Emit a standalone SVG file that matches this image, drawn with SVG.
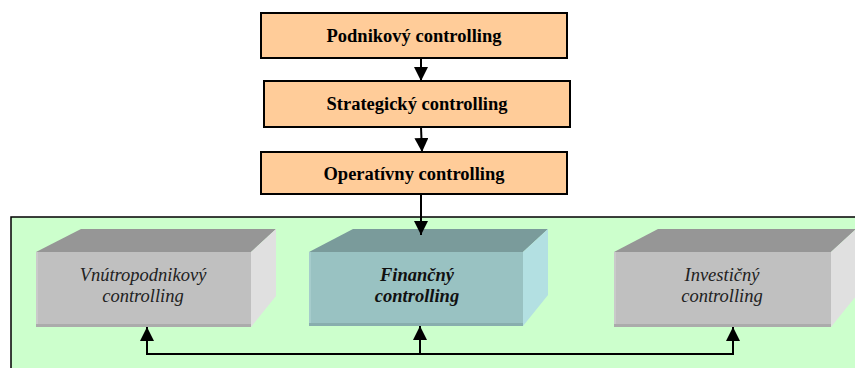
<svg xmlns="http://www.w3.org/2000/svg" width="855" height="368" viewBox="0 0 855 368">
  <style>
    .box { fill: #FFCC99; stroke: #000; stroke-width: 2; }
    .conn { fill: none; stroke: #000; stroke-width: 2; }
    .g-front { fill: #C0C0C0; }
    .g-top { fill: #969696; }
    .g-side { fill: #E0E0E0; }
    .g-lit { fill: #CACACA; }
    .g-dark { fill: #ABABAB; }
    .t-front { fill: #99C2C2; }
    .t-top { fill: #7A9B9B; }
    .t-side { fill: #B3E0E2; }
    .t-lit { fill: #A6CCCC; }
    .t-dark { fill: #88AEAE; }
  </style>
  <defs>
    <marker id="arrow" viewBox="0 0 14 14" refX="14" refY="7" markerWidth="14" markerHeight="14" markerUnits="userSpaceOnUse" orient="auto">
      <path d="M0,0 L14,7 L0,14 Z" fill="#000"/>
    </marker>
  </defs>

  <rect width="855" height="368" fill="#fff"/>

  <!-- green panel holding the three controlling areas -->
  <g id="panel">
    <rect x="11" y="217" width="850" height="160" fill="#CCFFCC" stroke="#000" stroke-width="1.5"/>
  </g>

  <!-- hierarchy levels -->
  <g id="podnikovy">
    <rect class="box" x="261" y="13" width="306" height="45"/>
    <text x="414" y="42" font-family="Liberation Serif" font-weight="bold" font-size="18.5" text-anchor="middle" fill="#000">Podnikový controlling</text>
  </g>
  <g id="strategicky">
    <rect class="box" x="264" y="81" width="306" height="46"/>
    <text x="417" y="110" font-family="Liberation Serif" font-weight="bold" font-size="18.5" text-anchor="middle" fill="#000">Strategický controlling</text>
  </g>
  <g id="operativny">
    <rect class="box" x="261" y="152" width="306" height="42"/>
    <text x="414" y="180" font-family="Liberation Serif" font-weight="bold" font-size="18.5" text-anchor="middle" fill="#000">Operatívny controlling</text>
  </g>

  <!-- 3D blocks -->
  <g id="vnutropodnikovy">
    <polygon class="g-top" points="36,252 81,229 276,229 251,252"/>
    <polygon class="g-side" points="251,252 276,229 276,296 251,327"/>
    <rect class="g-front" x="36" y="252" width="215" height="75"/>
    <rect class="g-lit" x="36" y="252" width="2" height="75"/>
    <rect class="g-dark" x="36" y="324" width="215" height="3"/>
    <text x="143" y="281" font-family="Liberation Serif" font-style="italic" font-size="18.5" text-anchor="middle" fill="#222">Vnútropodnikový</text>
    <text x="143" y="302" font-family="Liberation Serif" font-style="italic" font-size="18.5" text-anchor="middle" fill="#222">controlling</text>
  </g>
  <g id="financny">
    <polygon class="t-top" points="309,252 353,229 548,229 523,252"/>
    <polygon class="t-side" points="523,252 548,229 548,295 523,326"/>
    <rect class="t-front" x="309" y="252" width="214" height="74"/>
    <rect class="t-lit" x="309" y="252" width="2" height="74"/>
    <rect class="t-dark" x="309" y="323" width="214" height="3"/>
    <text x="417" y="281" font-family="Liberation Serif" font-style="italic" font-weight="bold" font-size="18.5" text-anchor="middle" fill="#111">Finančný</text>
    <text x="417" y="302" font-family="Liberation Serif" font-style="italic" font-weight="bold" font-size="18.5" text-anchor="middle" fill="#111">controlling</text>
  </g>
  <g id="investicny">
    <polygon class="g-top" points="614,252 658,229 856,229 831,252"/>
    <polygon class="g-side" points="831,252 856,229 856,296 831,327"/>
    <rect class="g-front" x="614" y="252" width="217" height="75"/>
    <rect class="g-lit" x="614" y="252" width="2" height="75"/>
    <rect class="g-dark" x="614" y="324" width="217" height="3"/>
    <text x="722" y="281" font-family="Liberation Serif" font-style="italic" font-size="18.5" text-anchor="middle" fill="#222">Investičný</text>
    <text x="722" y="302" font-family="Liberation Serif" font-style="italic" font-size="18.5" text-anchor="middle" fill="#222">controlling</text>
  </g>

  <!-- connectors -->
  <g id="connectors">
    <line class="conn" x1="421" y1="58" x2="421" y2="81" marker-end="url(#arrow)"/>
    <line class="conn" x1="421" y1="127" x2="422" y2="152" marker-end="url(#arrow)"/>
    <line class="conn" x1="421" y1="194" x2="421" y2="235" marker-end="url(#arrow)"/>
    <polyline class="conn" points="147,340 147,354 733,354 733,340"/>
    <line class="conn" x1="147" y1="354" x2="147" y2="327" marker-end="url(#arrow)"/>
    <line class="conn" x1="420" y1="354" x2="420" y2="326" marker-end="url(#arrow)"/>
    <line class="conn" x1="733" y1="354" x2="733" y2="327" marker-end="url(#arrow)"/>
  </g>
</svg>
